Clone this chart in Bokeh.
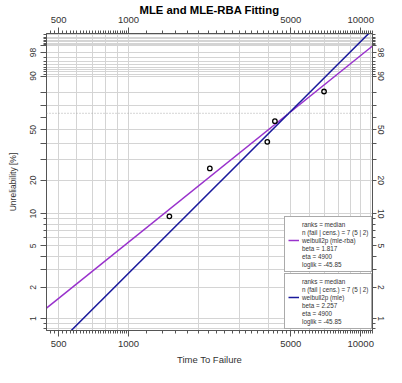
import math
from bokeh.plotting import figure
from bokeh.models import (FixedTicker, LogAxis, LinearAxis, Span, Legend,
                          LegendItem, Range1d, BasicTickFormatter, CustomJSTickFormatter)
from bokeh.embed import file_html
from bokeh.resources import INLINE

# ---------------- data ----------------
time_to_failure = [1500, 2240, 3960, 4270, 6950]
unreliability_pct = [9.46, 25.23, 40.99, 56.76, 80.41]

n_total, n_fail, n_cens = 7, 5, 2
beta_mle_rba = 1.817
beta_mle = 2.257
eta_mle_rba = 4900
eta_mle = 4900
loglik_mle_rba = -45.85
loglik_mle = -45.85

x_min, x_max = 443.6, 11237
y_min_pct, y_max_pct = 0.766, 99.747

x_major = [500, 1000, 5000, 10000]
x_minor = list(range(440, 1000, 20)) + list(range(1000, 11400, 200))
x_grid = [500, 600, 700, 800, 900, 1000] + list(range(2000, 12000, 1000))

y_labeled = [1, 2, 5, 10, 20, 50, 90, 98]
y_major_unlabeled = [3, 4, 30, 40, 60, 70, 80, 99]
y_minor = [0.8, 0.9, 6, 7, 8, 9, 91, 92, 93, 94, 95, 96, 97,
           99.1, 99.2, 99.3, 99.4, 99.5, 99.6, 99.7]
y_grid = [0.8, 0.9, 1, 2, 3, 4, 5, 6, 7, 8, 9, 10, 20, 30, 40, 50, 70, 80, 90,
          91, 92, 93, 94, 95, 96, 97, 98, 99, 99.1, 99.2, 99.3, 99.4, 99.5, 99.6, 99.7]

PURPLE = "#9932CC"
BLUE = "#1A1A9C"
AX = "#555555"
TXT = "#333333"
FONT = "Liberation Sans"


def wb(p):
    return math.log(-math.log(1.0 - p / 100.0))


# ---------------- figure ----------------
p = figure(width=386, height=367, x_axis_type="log",
           x_range=Range1d(x_min, x_max), y_range=Range1d(wb(y_min_pct), wb(y_max_pct)),
           output_backend="svg", toolbar_location=None,
           min_border_left=46, min_border_right=14, min_border_top=33, min_border_bottom=36)
p.background_fill_color = "white"
p.border_fill_color = "white"
p.outline_line_color = AX
p.outline_line_width = 1

p.title.text = "MLE and MLE-RBA Fitting"
p.title.align = "center"
p.title.vertical_align = "top"
p.title.text_font = FONT
p.title.text_font_size = "11.3px"
p.title.text_font_style = "bold"
p.title.text_color = "black"
p.title.standoff = -8

xticker = FixedTicker(ticks=x_major, minor_ticks=x_minor)
yticker = FixedTicker(ticks=[wb(v) for v in y_labeled + y_major_unlabeled],
                      minor_ticks=[wb(v) for v in y_minor])
yfmt = CustomJSTickFormatter(args=dict(show=y_labeled), code="""
    const v = 100 * (1 - Math.exp(-Math.exp(tick)));
    const r = Math.round(v * 10) / 10;
    return show.includes(r) ? String(r) : "";
""")

# grids
p.xgrid.ticker = FixedTicker(ticks=x_grid)
p.ygrid.ticker = FixedTicker(ticks=[wb(v) for v in y_grid])
for g in (p.xgrid, p.ygrid):
    g.grid_line_color = "#d4d4d4"
    g.grid_line_width = 1


def style_axis(ax, size, standoff, tick_out=6):
    ax.axis_line_color = AX
    ax.major_tick_line_color = AX
    ax.minor_tick_line_color = AX
    ax.major_tick_out = tick_out
    ax.major_tick_in = 0
    ax.minor_tick_out = 3
    ax.minor_tick_in = 0
    ax.major_label_text_font = FONT
    ax.major_label_text_font_size = size
    ax.major_label_text_color = TXT
    ax.major_label_standoff = standoff


def style_label(ax, text, standoff):
    ax.axis_label = text
    ax.axis_label_text_font = FONT
    ax.axis_label_text_font_size = "9.5px"
    ax.axis_label_text_font_style = "normal"
    ax.axis_label_text_color = TXT
    ax.axis_label_standoff = standoff


# bottom x axis
xb = p.xaxis[0]
xb.ticker = xticker
xb.formatter = BasicTickFormatter(use_scientific=False)
style_axis(xb, "9.5px", 4)
style_label(xb, "Time To Failure", 4)

# top x axis
xt = LogAxis(ticker=xticker, formatter=BasicTickFormatter(use_scientific=False))
style_axis(xt, "9.5px", 5)
p.add_layout(xt, "above")

# left y axis
yl = p.yaxis[0]
yl.ticker = yticker
yl.formatter = yfmt
style_axis(yl, "8.5px", 4)
yl.major_label_orientation = "vertical"
style_label(yl, "Unreliability [%]", 10)
yl.axis_label_text_font_size = "8.5px"

# right y axis
yr = LinearAxis(ticker=yticker, formatter=yfmt)
style_axis(yr, "8.5px", 1, tick_out=4)
yr.major_label_orientation = "vertical"
p.add_layout(yr, "right")

# characteristic-life line (63.2 %)
p.add_layout(Span(location=wb(100 * (1 - math.exp(-1))), dimension="width",
                  line_color="#aaaaaa", line_dash="1 2", line_width=1))

# fitted lines
xs = [x_min, x_max]
ys_rba = [beta_mle_rba * (math.log(x) - math.log(eta_mle_rba)) for x in xs]
ys_mle = [beta_mle * (math.log(x) - math.log(eta_mle)) for x in xs]
l_rba = p.line(xs, ys_rba, line_color=PURPLE, line_width=1.5)
l_mle = p.line(xs, ys_mle, line_color=BLUE, line_width=1.5)

# data points
p.scatter(time_to_failure, [wb(v) for v in unreliability_pct], marker="circle",
          size=4.5, fill_color=None, line_color="black", line_width=1.3)

# legend helpers
r_pt = p.scatter(x=[], y=[], marker="circle", fill_color="black", line_color="black")
r_blank = p.scatter(x=[], y=[], marker="circle", fill_alpha=0, line_alpha=0)


def make_legend(line_r, method, beta, eta, loglik, loc):
    items = [
        LegendItem(label="ranks = median", renderers=[r_pt]),
        LegendItem(label=f"n (fail | cens.) = {n_total} ({n_fail} | {n_cens})", renderers=[r_blank]),
        LegendItem(label=f"weibull2p ({method})", renderers=[line_r]),
        LegendItem(label=f"beta = {beta}", renderers=[r_blank]),
        LegendItem(label=f"eta = {eta}", renderers=[r_blank]),
        LegendItem(label=f"loglik = {loglik}", renderers=[r_blank]),
    ]
    lg = Legend(items=items, location=loc, label_text_font=FONT,
                label_text_font_size="6.3px", label_text_color=TXT,
                label_height=8, glyph_height=8, glyph_width=11, label_standoff=3,
                spacing=0, padding=3, margin=0,
                border_line_color=AX, border_line_width=1,
                background_fill_color="white", background_fill_alpha=1)
    p.add_layout(lg, "center")


make_legend(l_rba, "mle-rba", beta_mle_rba, eta_mle_rba, loglik_mle_rba, (238, 58))
make_legend(l_mle, "mle", beta_mle, eta_mle, loglik_mle, (238, 1))

open("out.html", "w").write(file_html(p, INLINE))
